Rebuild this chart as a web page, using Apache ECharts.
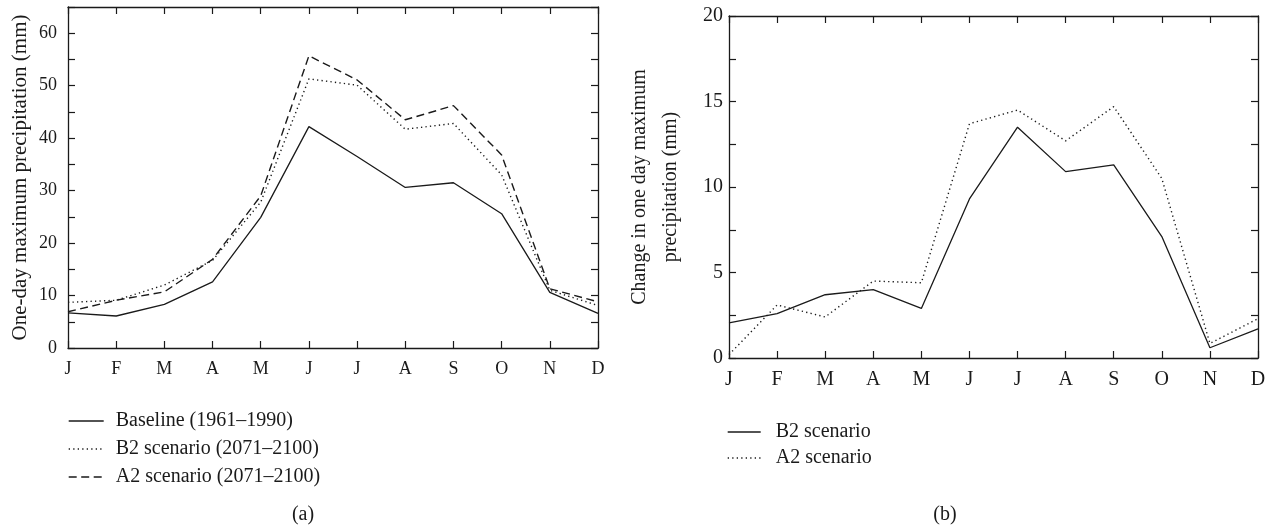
<!DOCTYPE html>
<html><head><meta charset="utf-8">
<script src="https://cdn.jsdelivr.net/npm/echarts@6/dist/echarts.min.js"></script>
<style>html,body{margin:0;padding:0;background:#fff}#c{width:1271px;height:527px}</style>
</head><body><div id="c"></div>
<script>
// ---- data ----
const months = ['J','F','M','A','M','J','J','A','S','O','N','D'];
const baseline = [6.7, 6.1, 8.3, 12.6, 24.9, 42.2, 36.5, 30.6, 31.5, 25.6, 10.6, 6.6];
const b2Scenario = [8.7, 9.1, 12.0, 16.7, 27.8, 51.3, 50.1, 41.7, 42.8, 33.0, 11.0, 8.1];
const a2Scenario = [6.9, 9.1, 10.7, 16.9, 29.0, 55.7, 51.1, 43.5, 46.2, 36.8, 11.3, 8.8];
const changeB2 = [2.05, 2.6, 3.7, 4.0, 2.9, 9.3, 13.5, 10.9, 11.3, 7.1, 0.6, 1.7];
const changeA2 = [0.2, 3.1, 2.4, 4.5, 4.4, 13.7, 14.5, 12.7, 14.7, 10.5, 0.85, 2.3];
const leftNames = ['Baseline (1961\u20131990)', 'B2 scenario (2071\u20132100)', 'A2 scenario (2071\u20132100)'];
const rightNames = ['B2 scenario', 'A2 scenario'];

const FONT = "'Liberation Serif','DejaVu Serif',serif";
const INK = '#1a1a1a';
const DOT = [1.3, 3.2];
const DASH = [8, 4.5];

function xPair(gridIndex, fontSize, margin) {
  const line = {show: true, onZero: false, lineStyle: {color: INK, width: 1.3}};
  const tick = {show: true, inside: true, length: 7, interval: 0, lineStyle: {color: INK, width: 1.2}};
  return [
    {type: 'category', gridIndex, data: months, boundaryGap: false, position: 'bottom',
     axisLine: line, axisTick: tick,
     axisLabel: {show: true, interval: 0, margin, color: INK, fontFamily: FONT, fontSize},
     splitLine: {show: false}},
    {type: 'category', gridIndex, data: months, boundaryGap: false, position: 'top',
     axisLine: line, axisTick: tick, axisLabel: {show: false}, splitLine: {show: false}}
  ];
}
function yPair(gridIndex, max, interval, labelStep, fontSize, margin, name, nameGap, nameSize, lineHeight) {
  const line = {show: true, onZero: false, lineStyle: {color: INK, width: 1.3}};
  const tick = {show: true, inside: true, length: 7, lineStyle: {color: INK, width: 1.2}};
  return [
    {type: 'value', gridIndex, min: 0, max, interval, position: 'left',
     axisLine: line, axisTick: tick, splitLine: {show: false},
     axisLabel: {margin, color: INK, fontFamily: FONT, fontSize,
       formatter: v => (Math.abs(v / labelStep - Math.round(v / labelStep)) < 1e-6 ? String(v) : '')},
     name, nameLocation: 'middle', nameGap,
     nameTextStyle: {color: INK, fontFamily: FONT, fontSize: nameSize, lineHeight}},
    {type: 'value', gridIndex, min: 0, max, interval, position: 'right',
     axisLine: line, axisTick: tick, splitLine: {show: false}, axisLabel: {show: false}}
  ];
}
function lineSeries(name, data, xi, yi, dash) {
  return {type: 'line', name, data, xAxisIndex: xi, yAxisIndex: yi,
    symbol: 'none', showSymbol: false, silent: true, animation: false,
    lineStyle: {color: INK, width: dash === 'solid' ? 1.3 : 1.4, type: dash, cap: 'butt'},
    itemStyle: {color: INK}};
}
const legendText = {color: INK, fontFamily: FONT, fontSize: 20, lineHeight: 20};

const option = {
  backgroundColor: '#fff',
  animation: false,
  grid: [
    {left: 68, top: 7, width: 530, height: 341},
    {left: 729, top: 16, width: 529, height: 342}
  ],
  xAxis: [...xPair(0, 18, 12), ...xPair(1, 20, 12)],
  yAxis: [
    ...yPair(0, 65, 5, 10, 18, 11, 'One-day maximum precipitation (mm)', 36, 21, 24),
    ...yPair(1, 20, 2.5, 5, 20, 6, 'Change in one day maximum\nprecipitation (mm)', 43, 20, 31)
  ],
  legend: [
    {data: leftNames, orient: 'vertical', left: 68, top: 411, padding: 0,
     itemWidth: 35, itemHeight: 14, itemGap: 8, selectedMode: false,
     itemStyle: {opacity: 0}, lineStyle: {width: 1.4},
     textStyle: Object.assign({padding: [0, 0, 0, 7]}, legendText)},
    {data: rightNames, orient: 'vertical', left: 727, top: 422, padding: 0,
     itemWidth: 33, itemHeight: 14, itemGap: 6, selectedMode: false,
     itemStyle: {opacity: 0}, lineStyle: {width: 1.4},
     textStyle: Object.assign({padding: [0, 0, 0, 10]}, legendText)}
  ],
  graphic: [
    {type: 'text', x: 303, y: 515, style: {text: '(a)', align: 'center', verticalAlign: 'middle', fontSize: 20, fontFamily: FONT, fill: INK}},
    {type: 'text', x: 945, y: 515, style: {text: '(b)', align: 'center', verticalAlign: 'middle', fontSize: 20, fontFamily: FONT, fill: INK}}
  ],
  series: [
    lineSeries(leftNames[0], baseline, 0, 0, 'solid'),
    lineSeries(leftNames[1], b2Scenario, 0, 0, DOT),
    lineSeries(leftNames[2], a2Scenario, 0, 0, DASH),
    lineSeries(rightNames[0], changeB2, 2, 2, 'solid'),
    lineSeries(rightNames[1], changeA2, 2, 2, DOT)
  ]
};
const chart = echarts.init(document.getElementById('c'), null, {renderer: 'canvas'});
chart.setOption(option);
</script></body></html>
